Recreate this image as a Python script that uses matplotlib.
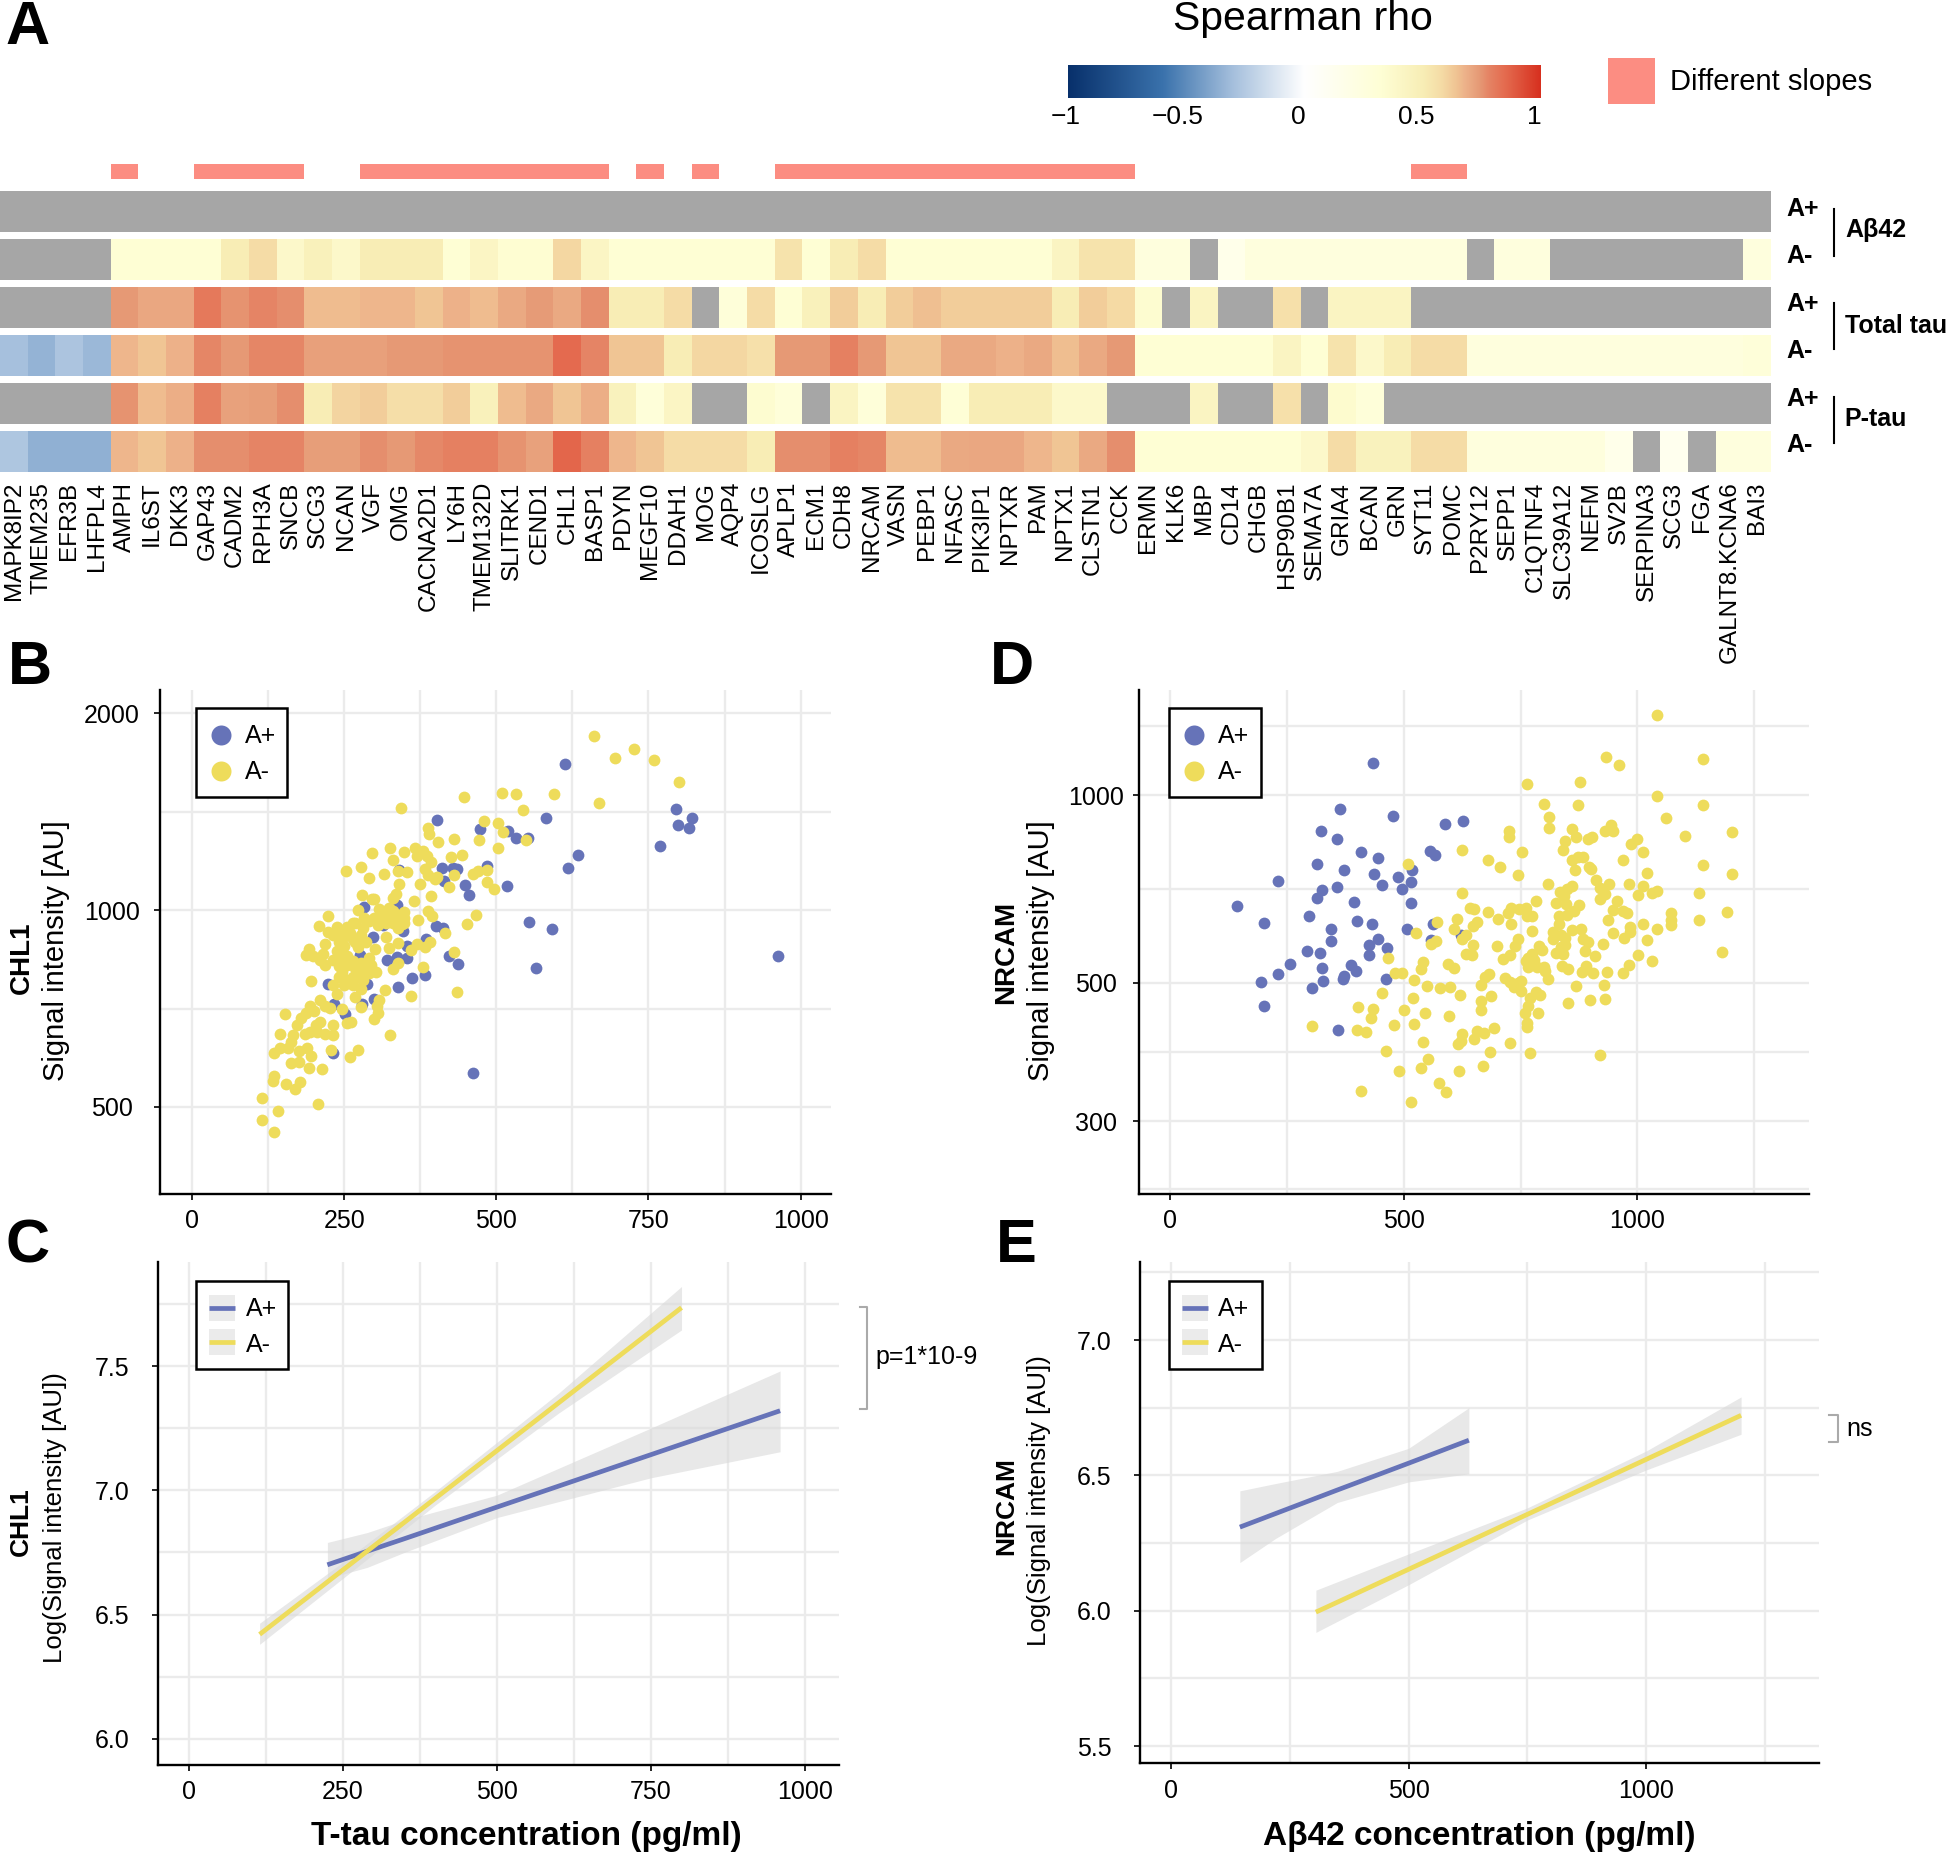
# Spearman heatmap with scatter and regression panels
import numpy as np
import matplotlib
matplotlib.use('Agg')
import matplotlib.pyplot as plt
from matplotlib.colors import LinearSegmentedColormap
from matplotlib.patches import Rectangle
from matplotlib.ticker import NullFormatter

plt.rcParams['font.family'] = ['Liberation Sans', 'DejaVu Sans']

W, H = 1946, 1853
nan = np.nan
BLUE = '#6673B8'
YELLOW = '#EEDC5B'
GRID = '#EBEBEB'
PINK = '#FC8D82'
RIBBON = '#D9D9D9'

genes = ['MAPK8IP2', 'TMEM235', 'EFR3B', 'LHFPL4', 'AMPH', 'IL6ST', 'DKK3', 'GAP43', 'CADM2', 'RPH3A',
         'SNCB', 'SCG3', 'NCAN', 'VGF', 'OMG', 'CACNA2D1', 'LY6H', 'TMEM132D', 'SLITRK1', 'CEND1',
         'CHL1', 'BASP1', 'PDYN', 'MEGF10', 'DDAH1', 'MOG', 'AQP4', 'ICOSLG', 'APLP1', 'ECM1',
         'CDH8', 'NRCAM', 'VASN', 'PEBP1', 'NFASC', 'PIK3IP1', 'NPTXR', 'PAM', 'NPTX1', 'CLSTN1',
         'CCK', 'ERMN', 'KLK6', 'MBP', 'CD14', 'CHGB', 'HSP90B1', 'SEMA7A', 'GRIA4', 'BCAN',
         'GRN', 'SYT11', 'POMC', 'P2RY12', 'SEPP1', 'C1QTNF4', 'SLC39A12', 'NEFM', 'SV2B', 'SERPINA3',
         'SCG3', 'FGA', 'GALNT8.KCNA6', 'BAI3']

# genes with a significant slope difference
diff_slopes = [4, 7, 8, 9, 10, 13, 14, 15, 16, 17, 18, 19, 20, 21, 23, 25,
               28, 29, 30, 31, 32, 33, 34, 35, 36, 37, 38, 39, 40, 51, 52]

rho_ab42_pos = [nan] * 64
rho_ab42_neg = [nan, nan, nan, nan, .33, .33, .33, .33, .5, .58, .39, .47, .39, .5, .5, .5, .33, .42, .34, .34,
                .59, .42, .33, .33, .33, .33, .33, .33, .55, .33, .5, .58, .33, .33, .33, .33, .33, .33, .43, .55,
                .55, .26, .26, nan, .16, .26, .26, .26, .26, .26, .26, .26, .26, nan, .26, .26,
                nan, nan, nan, nan, nan, nan, nan, .26]
rho_ttau_pos = [nan, nan, nan, nan, .74, .705, .705, .81, .75, .78, .76, .66, .66, .67, .67, .64, .68, .66, .70, .735,
                .70, .76, .5, .5, .58, nan, .29, .58, .33, .47, .62, .5, .62, .65, .62, .62, .62, .62, .5, .62,
                .585, .35, nan, .43, nan, nan, .56, nan, .43, .43, .43,
                nan, nan, nan, nan, nan, nan, nan, nan, nan, nan, nan, nan, nan]
rho_ttau_neg = [-.3, -.35, -.28, -.33, .67, .64, .68, .775, .74, .775, .775, .725, .725, .725, .74, .74, .75, .75, .75, .75,
                .85, .78, .64, .64, .5, .59, .59, .56, .74, .74, .79, .74, .64, .64, .70, .70, .68, .70, .655, .70,
                .74, .33, .33, .33, .33, .33, .43, .33, .55, .39, .5, .58, .58,
                .26, .26, .26, .26, .26, .26, .26, .26, .26, .26, .29]
rho_ptau_pos = [nan, nan, nan, nan, .75, .66, .69, .79, .72, .73, .76, .5, .6, .62, .57, .57, .62, .47, .66, .70,
                .64, .69, .46, .29, .42, nan, nan, .35, .29, nan, .43, .29, .55, .55, .31, .5, .5, .5, .39, .39,
                nan, nan, nan, .43, nan, nan, .56, nan, .36, .29,
                nan, nan, nan, nan, nan, nan, nan, nan, nan, nan, nan, nan, nan, nan]
rho_ptau_neg = [-.27, -.36, -.36, -.36, .67, .64, .68, .76, .76, .78, .78, .73, .73, .76, .74, .77, .79, .79, .75, .72,
                .86, .79, .67, .64, .58, .58, .58, .5, .76, .76, .79, .775, .66, .66, .70, .705, .705, .67, .64, .70,
                .76, .33, .33, .33, .33, .33, .33, .39, .58, .46, .46, .58, .58,
                .26, .26, .26, .26, .26, .16, nan, .13, nan, .26, .26]
heat_rows = [rho_ab42_pos, rho_ab42_neg, rho_ttau_pos, rho_ttau_neg, rho_ptau_pos, rho_ptau_neg]

# panel B, T-tau vs CHL1
b_pos_x = [613, 403, 473, 520, 533, 552, 581, 796, 821, 798, 817, 769, 634, 618, 484, 436, 429, 410, 414, 449,
           455, 517, 554, 592, 566, 401, 412, 384, 437, 423, 383, 362, 339, 354, 337, 320, 354, 347, 337, 340,
           313, 298, 283, 278, 276, 224, 234, 252, 280, 299, 232, 462, 963, 288]
b_pos_y = [1670, 1372, 1329, 1321, 1289, 1289, 1385, 1428, 1385, 1350, 1334, 1255, 1213, 1158, 1166, 1156, 1160, 1161, 1107, 1093,
           1056, 1088, 960, 934, 815, 944, 938, 903, 828, 850, 795, 787, 762, 845, 847, 840, 881, 930, 1019, 1153,
           949, 909, 1011, 805, 855, 770, 719, 693, 719, 731, 605, 563, 851, 772]
b_neg_x = [661, 695, 726, 759, 800, 668, 595, 533, 509, 447, 344, 544, 480, 503, 511, 388, 389, 405, 431, 472,
           549, 503, 444, 426, 295, 326, 349, 366, 379, 370, 386, 330, 392, 253, 278, 339, 353, 316, 291, 383,
           387, 400, 403, 431, 461, 470, 485, 484, 497, 422, 374, 340, 392, 335, 330, 280, 365, 296, 467, 452,
           223, 209, 388, 394, 371, 416, 391, 430, 435, 379, 360, 331, 339, 382, 369, 359, 339, 323, 319, 348,
           348, 345, 339, 323, 308, 299, 319, 330, 305, 283, 272, 268, 255, 239, 246, 224, 232, 264, 246, 272,
           301, 219, 193, 188, 199, 215, 210, 219, 239, 255, 290, 294, 303, 255, 241, 268, 241, 255, 281, 264,
           277, 268, 195, 238, 232, 317, 308, 304, 305, 277, 299, 246, 226, 210, 219, 194, 201, 188, 179, 152,
           172, 210, 204, 232, 255, 262, 166, 144, 186, 194, 206, 219, 231, 326, 163, 157, 144, 135, 176, 189,
           195, 228, 272, 259, 175, 163, 192, 213, 134, 133, 155, 177, 169, 115, 207, 141, 115, 134,
           241, 250, 259, 268, 281, 290, 299, 308, 330, 339, 255, 264, 277, 286, 232, 246, 264, 277, 281, 246,
           264, 272, 250, 290, 330, 319, 348]
b_neg_y = [1844, 1707, 1760, 1699, 1570, 1456, 1505, 1505, 1512, 1489, 1432, 1421, 1367, 1357, 1318, 1337, 1308, 1271, 1286, 1279,
           1279, 1243, 1215, 1207, 1222, 1242, 1225, 1245, 1233, 1210, 1210, 1191, 1186, 1147, 1164, 1149, 1142, 1135, 1118, 1156,
           1132, 1114, 1125, 1131, 1137, 1146, 1150, 1102, 1076, 1085, 1095, 1095, 1052, 1059, 1044, 1053, 1033, 1040, 984, 951,
           978, 947, 995, 981, 965, 924, 895, 864, 750, 817, 739, 814, 830, 877, 888, 868, 891, 876, 909, 994,
           972, 951, 938, 1009, 1002, 1040, 984, 972, 949, 972, 999, 955, 921, 943, 926, 926, 915, 904, 904, 877,
           872, 888, 872, 854, 851, 856, 840, 825, 866, 851, 845, 825, 803, 825, 820, 815, 791, 781, 781, 767,
           758, 737, 780, 744, 767, 756, 728, 713, 696, 710, 682, 707, 709, 728, 713, 713, 700, 696, 683, 694,
           667, 675, 668, 668, 671, 674, 645, 647, 646, 651, 651, 646, 643, 644, 628, 616, 615, 605, 609, 615,
           599, 611, 611, 597, 585, 583, 573, 571, 558, 548, 542, 546, 533, 516, 506, 493, 477, 457,
           893, 882, 921, 893, 938, 961, 972, 972, 996, 984, 943, 955, 915, 893, 840, 851, 835, 830, 810, 805,
           791, 791, 767, 800, 955, 955, 955]

# panel D, Abeta42 vs NRCAM
d_pos_x = [435, 364, 478, 589, 628, 323, 358, 409, 445, 556, 568, 314, 372, 517, 436, 488, 516, 232, 454, 497,
           358, 325, 315, 393, 516, 144, 297, 401, 202, 433, 562, 344, 508, 622, 446, 559, 344, 425, 464, 294,
           322, 425, 257, 388, 326, 399, 231, 372, 371, 462, 327, 195, 305, 202, 360]
d_pos_y = [1126, 951, 924, 900, 908, 877, 849, 811, 794, 812, 802, 776, 758, 757, 746, 738, 726, 727, 718, 708,
           713, 705, 684, 675, 672, 665, 641, 629, 623, 621, 621, 610, 610, 597, 588, 586, 583, 575, 569, 563,
           558, 555, 537, 535, 528, 523, 517, 513, 508, 508, 503, 502, 491, 460, 421]
d_neg_x = [1041, 933, 960, 1140, 877, 763, 1041, 1140, 801, 872, 811, 1060, 810, 1201, 726, 725, 860, 869, 845, 894,
           903, 931, 943, 947, 1101, 998, 986, 840, 624, 753, 1011, 681, 706, 510, 859, 873, 884, 969, 1140, 897,
           901, 866, 1020, 744, 1201, 911, 808, 940, 981, 1011, 860, 850, 919, 834, 843, 624, 930, 1041, 1031, 1001,
           1131, 920, 957, 825, 783, 848, 875, 729, 747, 761, 643, 651, 681, 947, 864, 970, 978, 1191, 724, 764,
           775, 833, 850, 1072, 938, 1072, 1131, 615, 702, 657, 649, 571, 730, 833, 1011, 1072, 984, 984, 1042, 608,
           774, 859, 880, 819, 947, 526, 837, 634, 972, 744, 819, 845, 625, 883, 1021, 894, 570, 559, 648, 738,
           700, 926, 845, 837, 790, 796, 888, 825, 840, 1181, 775, 633, 646, 727, 910, 1001, 467, 713, 767, 779,
           542, 1031, 761, 982, 596, 608, 839, 891, 767, 785, 800, 537, 852, 881, 891, 935, 905, 970, 481, 497,
           802, 809, 683, 675, 717, 522, 727, 752, 744, 666, 550, 599, 578, 869, 928, 735, 752, 454, 621, 783,
           792, 686, 520, 771, 899, 930, 666, 852, 402, 435, 767, 500, 665, 546, 760, 788, 597, 430, 480, 522,
           763, 763, 304, 401, 420, 694, 658, 671, 625, 651, 622, 616, 542, 728, 462, 684, 770, 919, 552, 669,
           537, 618, 491, 576, 409, 591, 516]
d_neg_y = [1343, 1150, 1117, 1144, 1048, 1040, 997, 963, 967, 965, 922, 918, 887, 873, 877, 858, 881, 858, 843, 851,
           858, 875, 895, 875, 861, 851, 836, 817, 817, 811, 811, 787, 766, 774, 788, 795, 795, 786, 773, 768,
           762, 758, 751, 744, 747, 731, 721, 720, 720, 714, 714, 706, 709, 699, 690, 697, 694, 703, 696, 692,
           696, 681, 677, 671, 677, 668, 666, 660, 656, 660, 660, 656, 650, 655, 652, 652, 646, 650, 646, 641,
           641, 639, 643, 646, 631, 631, 630, 633, 632, 625, 617, 625, 622, 622, 622, 620, 615, 604, 610, 610,
           606, 607, 609, 604, 602, 602, 596, 597, 590, 588, 587, 590, 587, 588, 585, 581, 583, 577, 576, 573,
           573, 578, 575, 570, 573, 564, 562, 559, 557, 561, 557, 556, 555, 555, 553, 555, 549, 547, 548, 545,
           541, 542, 542, 535, 536, 529, 533, 533, 531, 530, 531, 526, 526, 521, 526, 521, 518, 518, 518, 519,
           522, 507, 517, 511, 510, 506, 502, 504, 499, 496, 495, 492, 491, 494, 497, 492, 485, 482, 479, 484,
           479, 476, 473, 473, 470, 472, 467, 464, 457, 455, 459, 452, 452, 447, 447, 447, 442, 439, 428, 430,
           432, 425, 426, 421, 417, 424, 419, 415, 414, 406, 403, 399, 402, 401, 389, 388, 386, 383, 378, 368,
           365, 362, 361, 346, 336, 334, 322]

# panel C regression fits
c_pos_x = [225, 290, 350, 500, 750, 960]
c_pos_y = [6.70, 6.755, 6.805, 6.932, 7.143, 7.32]
c_pos_lo = [6.645, 6.69, 6.75, 6.89, 7.05, 7.155]
c_pos_hi = [6.79, 6.83, 6.88, 6.98, 7.25, 7.48]
c_neg_x = [115, 250, 400, 600, 800]
c_neg_y = [6.42, 6.679, 6.967, 7.351, 7.735]
c_neg_lo = [6.38, 6.645, 6.94, 7.31, 7.645]
c_neg_hi = [6.465, 6.71, 6.995, 7.39, 7.82]

# panel E regression fits
e_pos_x = [145, 220, 350, 500, 627]
e_pos_y = [6.309, 6.359, 6.446, 6.545, 6.63]
e_pos_lo = [6.178, 6.267, 6.40, 6.476, 6.506]
e_pos_hi = [6.443, 6.47, 6.515, 6.6, 6.75]
e_neg_x = [305, 500, 750, 1000, 1200]
e_neg_y = [5.995, 6.153, 6.356, 6.559, 6.722]
e_neg_lo = [5.92, 6.096, 6.335, 6.52, 6.652]
e_neg_hi = [6.076, 6.21, 6.38, 6.59, 6.79]

rho_stops = [-1, -.6, -.3, 0, .33, .5, .58, .64, .68, .74, .78, .85, 1]
rho_colors = ['#08306B', '#3A72AC', '#A6C0DD', '#FFFFFF', '#FEFED4', '#F8EEB6', '#F5DCA6',
              '#F0C594', '#EDB28A', '#E69A76', '#E58465', '#E46B4F', '#D7301F']
cmap = LinearSegmentedColormap.from_list('rho', [((s + 1) / 2, c) for s, c in zip(rho_stops, rho_colors)], N=512)
cmap.set_bad('#A6A6A6')


def px_axes(fig, left, top, right, bottom):
    return fig.add_axes([left / W, 1 - bottom / H, (right - left) / W, (bottom - top) / H])


def style_axes(ax, xt, xm, yt, ym, ylabels, ypad):
    ax.set_xticks(xt)
    ax.set_xticklabels([str(v) for v in xt])
    ax.set_xticks(xm, minor=True)
    ax.set_yticks(yt)
    ax.set_yticks(ym, minor=True)
    ax.yaxis.set_minor_formatter(NullFormatter())
    ax.set_yticklabels(ylabels, ha='center', va='center_baseline')
    ax.grid(which='both', color=GRID, lw=1.7, zorder=0)
    ax.set_axisbelow(True)
    ax.tick_params(which='minor', length=0)
    ax.tick_params(axis='x', which='major', length=4, width=1.2, labelsize=18, pad=7)
    ax.tick_params(axis='y', which='major', length=4, width=1.2, labelsize=18, pad=ypad)
    for side in ['top', 'right']:
        ax.spines[side].set_visible(False)
    for side in ['left', 'bottom']:
        ax.spines[side].set_linewidth(1.7)


def fit_band(ax, x, y, lo, hi, color):
    ax.fill_between(x, lo, hi, color=RIBBON, alpha=0.6, lw=0, zorder=2)
    ax.plot(x, y, color=color, lw=3.4, zorder=3, solid_capstyle='butt')


fig = plt.figure(figsize=(W / 100, H / 100), dpi=100)

# A - heatmap
ax_a = px_axes(fig, 0, 161.9, 1771, 472)
edges = np.arange(65)
for i, row in enumerate(heat_rows):
    vals = np.ma.masked_invalid(np.array(row, dtype=float)).reshape(1, -1)
    ax_a.pcolormesh(edges, [i, i + .86], vals, cmap=cmap, vmin=-1, vmax=1)
ax_a.bar(diff_slopes, [.316] * len(diff_slopes), width=1, bottom=-.556, align='edge', color=PINK, lw=0)
ax_a.set_xlim(0, 64)
ax_a.set_ylim(5.86, -.6)
ax_a.set_yticks([])
ax_a.set_xticks(edges[:-1] + .5)
ax_a.set_xticklabels(genes, rotation=90, fontsize=17.5, ha='center', va='top')
ax_a.tick_params(axis='x', length=0, pad=7)
for s in ax_a.spines.values():
    s.set_visible(False)

# colour bar
ax_cb = px_axes(fig, 1068, 65, 1541, 98)
ax_cb.imshow(np.linspace(-1, 1, 512).reshape(1, -1), cmap=cmap, vmin=-1, vmax=1, aspect='auto', extent=[-1, 1, 0, 1])
ax_cb.set_yticks([])
ax_cb.set_xticks([])
for s in ax_cb.spines.values():
    s.set_visible(False)

# B
ax_b = px_axes(fig, 160.4, 690, 831, 1194)
ax_b.set_yscale('log')
ax_b.scatter(b_pos_x, b_pos_y, s=72, color=BLUE, lw=0, zorder=3)
ax_b.scatter(b_neg_x, b_neg_y, s=72, color=YELLOW, lw=0, zorder=4)
ax_b.set_xlim(-52, 1050)
ax_b.set_ylim(368, 2170)
style_axes(ax_b, [0, 250, 500, 750, 1000], [125, 375, 625, 875], [500, 1000, 2000], [707, 1414],
           ['500', '1000', '2000'], 31)

# D
ax_d = px_axes(fig, 1139, 690, 1808.7, 1193.5)
ax_d.set_yscale('log')
ax_d.scatter(d_pos_x, d_pos_y, s=72, color=BLUE, lw=0, zorder=3)
ax_d.scatter(d_neg_x, d_neg_y, s=72, color=YELLOW, lw=0, zorder=4)
ax_d.set_xlim(-65.6, 1366)
ax_d.set_ylim(230, 1473)
style_axes(ax_d, [0, 500, 1000], [250, 750, 1250], [300, 500, 1000], [234, 388, 707, 1292],
           ['300', '500', '1000'], 27)

# C
ax_c = px_axes(fig, 157.5, 1262.4, 838.6, 1764.6)
fit_band(ax_c, c_pos_x, c_pos_y, c_pos_lo, c_pos_hi, BLUE)
fit_band(ax_c, c_neg_x, c_neg_y, c_neg_lo, c_neg_hi, YELLOW)
ax_c.set_xlim(-50.8, 1055)
ax_c.set_ylim(5.896, 7.917)
style_axes(ax_c, [0, 250, 500, 750, 1000], [125, 375, 625, 875], [6, 6.5, 7, 7.5], [6.25, 6.75, 7.25, 7.75],
           ['6.0', '6.5', '7.0', '7.5'], 29)

# E
ax_e = px_axes(fig, 1140.2, 1261.6, 1819, 1763.4)
fit_band(ax_e, e_pos_x, e_pos_y, e_pos_lo, e_pos_hi, BLUE)
fit_band(ax_e, e_neg_x, e_neg_y, e_neg_lo, e_neg_hi, YELLOW)
ax_e.set_xlim(-64.8, 1364)
ax_e.set_ylim(5.436, 7.29)
style_axes(ax_e, [0, 500, 1000], [250, 750, 1250], [5.5, 6, 6.5, 7], [5.75, 6.25, 6.75, 7.25],
           ['5.5', '6.0', '6.5', '7.0'], 29)

# overlay in figure pixels for labels, legends and brackets
ov = fig.add_axes([0, 0, 1, 1], zorder=10)
ov.set_xlim(0, W)
ov.set_ylim(H, 0)
ov.axis('off')
ov.patch.set_alpha(0)

for letter, x, y in [('A', 5, 28), ('B', 8, 668), ('C', 6, 1247), ('D', 990, 668), ('E', 996, 1247)]:
    ov.text(x, y, letter, fontsize=44, fontweight='bold', ha='left', va='center')

ov.text(1303, 19, 'Spearman rho', fontsize=29.5, ha='center', va='center')
for label, x in zip(['\u22121', '\u22120.5', '0', '0.5', '1'], [1066, 1178, 1298.6, 1416, 1534]):
    ov.text(x, 117, label, fontsize=19, ha='center', va='center')
ov.add_patch(Rectangle((1608, 58), 46.6, 46, color=PINK, lw=0))
ov.text(1670, 82, 'Different slopes', fontsize=21, ha='left', va='center')

for label, y in zip(['A+', 'A-', 'A+', 'A-', 'A+', 'A-'], [209, 256, 304, 351, 399, 445]):
    ov.text(1786, y, label, fontsize=18, fontweight='bold', ha='left', va='center')
for label, y0, y1, ty, tx in [('A\u03b242', 209, 256, 230, 1845), ('Total tau', 303, 349, 326, 1845),
                              ('P-tau', 397, 443, 419, 1844)]:
    ov.plot([1833.6, 1833.6], [y0, y1], color='black', lw=1.5)
    ov.text(tx, ty, label, fontsize=18, fontweight='bold', ha='left', va='center')

# axis titles
for name, x0, cy0, x1, cy1, text, size0, size1 in [
    ('CHL1', 22, 958, 56, 951, 'Signal intensity [AU]', 20, 21),
    ('NRCAM', 1006, 952, 1041, 951, 'Signal intensity [AU]', 20, 21),
    ('CHL1', 21, 1522, 55, 1518, 'Log(Signal intensity [AU])', 19, 18.5),
    ('NRCAM', 1006, 1506, 1039, 1501, 'Log(Signal intensity [AU])', 19, 18.5),
]:
    ov.text(x0, cy0, name, fontsize=size0, fontweight='bold', rotation=90, ha='center', va='center')
    ov.text(x1, cy1, text, fontsize=size1, rotation=90, ha='center', va='center')

ov.text(526, 1836, 'T-tau concentration (pg/ml)', fontsize=24, fontweight='bold', ha='center', va='center')
ov.text(1479, 1836, 'A\u03b242 concentration (pg/ml)', fontsize=24, fontweight='bold', ha='center', va='center')

# legends
for bx0, bx1, mx, tx in [(196, 287, 221, 245), (1169, 1261, 1194, 1218)]:
    ov.add_patch(Rectangle((bx0, 707.6), bx1 - bx0, 89.4, fc='white', ec='black', lw=1.8))
    ov.plot([mx], [735], 'o', color=BLUE, ms=14.4, mew=0)
    ov.plot([mx], [771], 'o', color=YELLOW, ms=14.4, mew=0)
    ov.text(tx, 736, 'A+', fontsize=18, ha='left', va='center')
    ov.text(tx, 772, 'A-', fontsize=18, ha='left', va='center')
for bx0, bx1, kx, tx in [(196, 288, 209, 245.5), (1169, 1261.5, 1181.5, 1218)]:
    ov.add_patch(Rectangle((bx0, 1281), bx1 - bx0, 88, fc='white', ec='black', lw=1.8))
    for ky, color, label, dy in [(1295, BLUE, 'A+', 14), (1329, YELLOW, 'A-', 16)]:
        ov.add_patch(Rectangle((kx, ky), 26, 26, fc='#EBEBEB', lw=0))
        ov.plot([kx, kx + 26], [ky + 13, ky + 13], color=color, lw=3.4, solid_capstyle='butt')
        ov.text(tx, ky + dy, label, fontsize=18, ha='left', va='center')

# significance brackets
ov.plot([860, 867, 867, 860], [1307, 1307, 1409, 1409], color='#AAAAAA', lw=1.5)
ov.text(875, 1357, 'p=1*10-9', fontsize=18, ha='left', va='center')
ov.plot([1829, 1838, 1838, 1829], [1415, 1415, 1442, 1442], color='#AAAAAA', lw=1.5)
ov.text(1846, 1429, 'ns', fontsize=18, ha='left', va='center')

plt.savefig('out.png', dpi=100)
